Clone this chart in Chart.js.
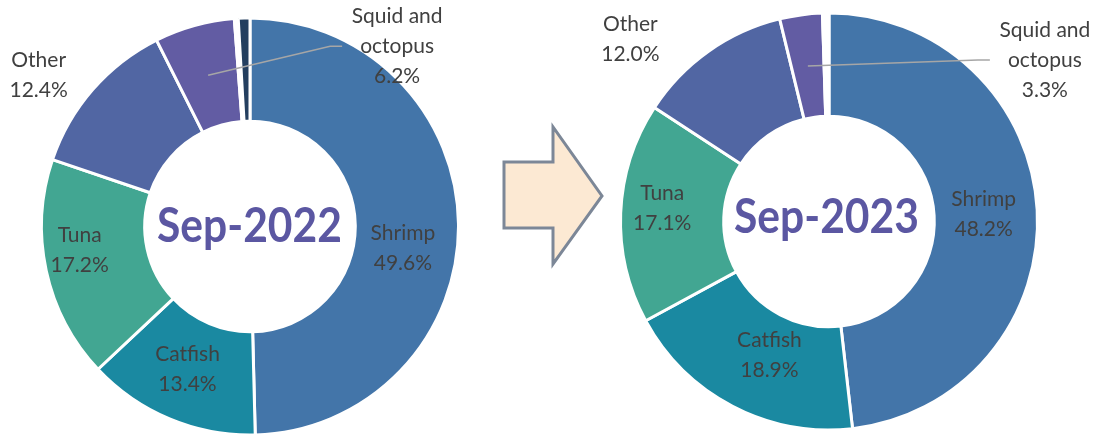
<!DOCTYPE html>
<html>
<head>
<meta charset="utf-8">
<script src="https://cdn.jsdelivr.net/npm/chart.js@4"></script>
<style>
  html, body { margin: 0; padding: 0; background: #fff; }
  #wrap { position: relative; width: 1099px; height: 435px; overflow: hidden; }
  #c1 { position: absolute; left: 0; top: 0; }
  #c2 { position: absolute; left: 580px; top: 0; }
  #arrow { position: absolute; left: 0; top: 0; }
</style>
</head>
<body>
<div id="wrap">
  <svg id="arrow" width="1099" height="435">
    <polygon points="504,162 553,162 553,127 602,196 553,264 553,228 504,228"
             fill="#FCE9D3" stroke="#7C8797" stroke-width="3" stroke-linejoin="miter"/>
  </svg>
  <canvas id="c1" width="500" height="435" style="width:500px;height:435px"></canvas>
  <canvas id="c2" width="519" height="435" style="width:519px;height:435px"></canvas>
</div>
<script>
// shares of export value, clockwise from 12 o'clock
const categories2022 = ['Shrimp', 'Catfish', 'Tuna', 'Other', 'Squid and octopus', '', 'Unlabelled'];
const share2022 = [49.6, 13.4, 17.2, 12.4, 6.2, 0.3, 0.9];

const categories2023 = ['Shrimp', 'Catfish', 'Tuna', 'Other', 'Squid and octopus', ''];
const share2023 = [48.2, 18.9, 17.1, 12.0, 3.3, 0.5];

const colorFor = {
  'Shrimp': '#4375A9',
  'Catfish': '#1A89A1',
  'Tuna': '#42A692',
  'Other': '#5166A3',
  'Squid and octopus': '#625CA3',
  'Unlabelled': '#243F5F',
  '': '#FFFFFF'
};

const labelFont = '21px Lato';
const textColor = '#404040';

// draws the name + percentage for each slice
const sliceLabels = {
  id: 'sliceLabels',
  afterDatasetsDraw(chart, args, opts) {
    const ctx = chart.ctx;
    const meta = chart.getDatasetMeta(0);
    const values = chart.data.datasets[0].data;
    ctx.save();
    ctx.font = labelFont;
    ctx.fillStyle = textColor;
    ctx.textAlign = 'center';
    ctx.textBaseline = 'middle';
    meta.data.forEach((arc, i) => {
      const name = chart.data.labels[i];
      if (!name || name === 'Unlabelled') return;
      const p = arc.tooltipPosition();
      const n = opts.nudge[i] || [0, 0];
      const x = p.x + n[0], y = p.y + n[1];
      const lines = name === 'Squid and octopus' ? ['Squid and', 'octopus'] : [name];
      lines.push(values[i].toFixed(1) + '%');
      lines.forEach((t, k) => ctx.fillText(t, x, y + (k - (lines.length - 1) / 2) * 30));
      if (opts.leader === i) {
        const ex = x - 55, ey = y;
        ctx.strokeStyle = '#A6A6A6';
        ctx.lineWidth = 1.5;
        ctx.beginPath();
        ctx.moveTo(p.x, p.y);
        ctx.lineTo(ex - 12, ey);
        ctx.lineTo(ex, ey);
        ctx.stroke();
      }
    });
    ctx.restore();
  }
};

const centerTitle = {
  id: 'centerTitle',
  afterDatasetsDraw(chart, args, opts) {
    const arc = chart.getDatasetMeta(0).data[0];
    const ctx = chart.ctx;
    ctx.save();
    ctx.font = 'bold 47px Lato';
    ctx.fillStyle = '#5B57A2';
    ctx.textAlign = 'center';
    ctx.textBaseline = 'alphabetic';
    ctx.fillText(opts.text, arc.x + opts.dx, arc.y + opts.dy, 185);
    ctx.restore();
  }
};

function makeDonut(id, labels, values, title, pad, center, nudge, leader) {
  return new Chart(document.getElementById(id), {
    type: 'doughnut',
    data: {
      labels: labels,
      datasets: [{
        data: values,
        backgroundColor: labels.map(l => colorFor[l]),
        borderColor: '#FFFFFF',
        borderWidth: 3
      }]
    },
    options: {
      responsive: false,
      animation: false,
      radius: 208.5,
      cutout: '50.5%',
      layout: { padding: pad },
      plugins: {
        legend: { display: false },
        tooltip: { enabled: false },
        sliceLabels: { nudge: nudge, leader: leader },
        centerTitle: { text: title, dx: center[0], dy: center[1] }
      }
    },
    plugins: [sliceLabels, centerTitle]
  });
}

makeDonut('c1', categories2022, share2022, 'Sep-2022',
  { left: 0, right: 0, top: 18, bottom: 0 }, [-0.5, 15.5],
  [[-4, 23.5], [-2, -2.5], [-17, -10], [-93, -48], [189, -29]], 4);

makeDonut('c2', categories2023, share2023, 'Sep-2023',
  { left: 0, right: 21, top: 8, bottom: 0 }, [-2.5, 11.5],
  [[-2, 2], [13, -5], [-10, -7], [-108, -54.5], [237, -6]], 4);
</script>
</body>
</html>
